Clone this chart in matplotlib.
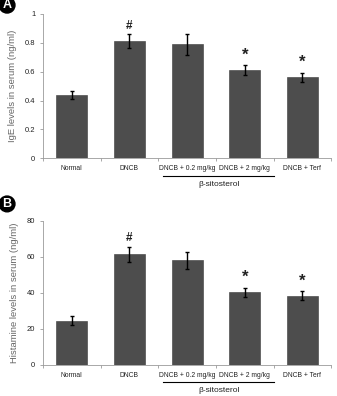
"""Serum IgE and histamine levels, two-panel bar chart."""

import matplotlib
matplotlib.use("Agg")
import matplotlib.pyplot as plt
import matplotlib.transforms as mtransforms
import numpy as np

plt.rcParams["font.family"] = ["Liberation Sans", "DejaVu Sans"]

groups = ["Normal", "DNCB", "DNCB + 0.2 mg/kg", "DNCB + 2 mg/kg", "DNCB + Terf"]
ige_mean = [0.44, 0.81, 0.79, 0.61, 0.56]
ige_err = [0.028, 0.048, 0.072, 0.033, 0.03]
hist_mean = [24.3, 61.4, 57.9, 40.2, 38.4]
hist_err = [2.5, 4.2, 4.5, 2.5, 2.4]
marks = ["", "#", "", "*", "*"]

panels = [
    ("A", ige_mean, ige_err, "IgE levels in serum (ng/ml)", [0, 0.2, 0.4, 0.6, 0.8, 1],
     ["0", "0.2", "0.4", "0.6", "0.8", "1"], 1.0, [0.1276, 0.6003, 0.855, 0.3644], 0.987),
    ("B", hist_mean, hist_err, "Histamine levels in serum (ng/ml)", [0, 20, 40, 60, 80],
     ["0", "20", "40", "60", "80"], 80.0, [0.1276, 0.0790, 0.855, 0.3637], 0.485),
]

fig = plt.figure(figsize=(3.37, 3.96), dpi=100)
x = np.arange(len(groups))
axis_grey = "#9a9a9a"
text_grey = "#222222"

for letter, mean, err, ylabel, yticks, ylabels, ymax, rect, letter_y in panels:
    ax = fig.add_axes(rect)
    ax.bar(x, mean, width=0.54, color="#4d4d4d", edgecolor="#3a3a3a", linewidth=0.4, zorder=2)
    ax.errorbar(x, mean, yerr=err, fmt="none", ecolor="black", elinewidth=1.0,
                capsize=1.5, capthick=1.0, zorder=3)
    for xi, m, e, s in zip(x, mean, err, marks):
        if s:
            ax.text(xi, m + e + ymax * 0.02, s, ha="center", va="bottom",
                    fontsize=8.5 if s == "#" else 12, fontweight="bold", color="#222222")

    ax.set_xlim(-0.5, len(groups) - 0.5)
    ax.set_ylim(0, ymax)
    ax.set_yticks(yticks)
    ax.set_yticklabels(ylabels, fontsize=5.5, color=text_grey)
    ax.set_xticks(x)
    ax.set_xticklabels(groups, fontsize=4.9, color=text_grey)
    ax.tick_params(axis="x", length=0, pad=5)
    ax.tick_params(axis="y", length=2.5, width=0.6, color=axis_grey, pad=3)
    ax.set_xticks(np.arange(-0.5, len(groups)), minor=True)
    ax.tick_params(axis="x", which="minor", length=2.5, width=0.6, color=axis_grey)
    ax.set_ylabel(ylabel, fontsize=6.8, color="#666666", labelpad=6)

    for side in ("top", "right"):
        ax.spines[side].set_visible(False)
    for side in ("left", "bottom"):
        ax.spines[side].set_color(axis_grey)
        ax.spines[side].set_linewidth(0.6)

    # bracket under the two beta-sitosterol groups
    trans = mtransforms.blended_transform_factory(ax.transData, ax.transAxes)
    ax.plot([1.58, 3.51], [-0.122, -0.122], color="black", lw=0.8,
            transform=trans, clip_on=False)
    ax.text(2.55, -0.182, "\u03b2-sitosterol", ha="center", va="center",
            fontsize=6.0, color=text_grey, transform=trans)

    # panel letter in a black disc
    fig.text(0.021, letter_y, letter, ha="center", va="center", fontsize=9,
             fontweight="bold", color="white",
             bbox=dict(boxstyle="circle,pad=0.15", fc="black", ec="black"))

fig.savefig("out.png", dpi=100)
